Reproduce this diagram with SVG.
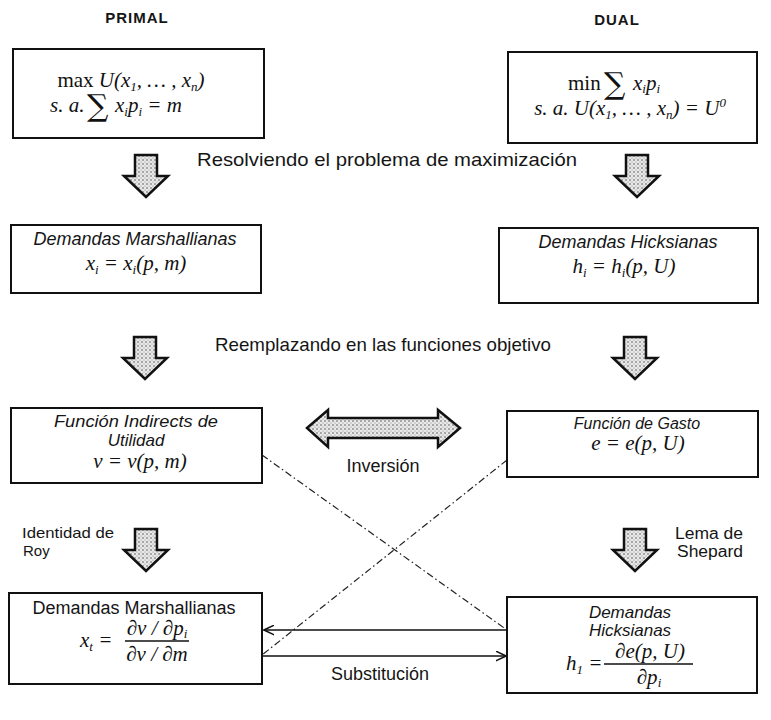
<svg xmlns="http://www.w3.org/2000/svg" xmlns:xlink="http://www.w3.org/1999/xlink" width="771" height="720" viewBox="0 0 771 720">
<style>
.box{fill:#fff;stroke:#111;stroke-width:2}
.lbl{font-family:"Liberation Sans",Arial,sans-serif;font-size:18px;fill:#151515}
.it{font-style:italic}
.hd{font-family:"Liberation Sans",Arial,sans-serif;font-size:15px;font-weight:bold;fill:#151515;letter-spacing:1px}
.math{font-family:"Liberation Serif","Times New Roman",serif;font-size:21px;font-style:italic;fill:#111}
.sub{font-size:13px}
.up{font-style:normal}
.sig{font-family:"DejaVu Serif","Liberation Serif",serif;font-size:30px;font-style:normal}
.blk{fill:url(#dots);stroke:#111;stroke-width:2.5;stroke-linejoin:miter}
.thin{fill:none;stroke:#111;stroke-width:1.3}
.dash{fill:none;stroke:#222;stroke-width:1.2;stroke-dasharray:7 3 1.5 3}
</style>
<defs>
<pattern id="dots" width="4" height="4" patternUnits="userSpaceOnUse">
<rect width="4" height="4" fill="#e8e8e8"/>
<circle cx="1" cy="1" r="0.7" fill="#333"/>
<circle cx="3" cy="3" r="0.5" fill="#777"/>
</pattern>
<path id="down" d="M-11,0 H11 V21 H22 L0,42 L-22,21 H-11 Z"/>
<marker id="open" viewBox="0 0 10 10" refX="9.5" refY="5" markerWidth="11" markerHeight="11" markerUnits="userSpaceOnUse" orient="auto">
<path d="M0,0.5 L9.5,5 L0,9.5" fill="none" stroke="#111" stroke-width="1.4"/>
</marker>
</defs>
<rect width="771" height="720" fill="#fff"/>

<g id="headers">
<text class="hd" x="137" y="23" text-anchor="middle">PRIMAL</text>
<text class="hd" x="617" y="25" text-anchor="middle">DUAL</text>
</g>

<g id="connectors">
<use xlink:href="#down" href="#down" x="146" y="155" class="blk"/>
<use xlink:href="#down" href="#down" x="637" y="155" class="blk"/>
<use xlink:href="#down" href="#down" x="145" y="337" class="blk"/>
<use xlink:href="#down" href="#down" x="635" y="337" class="blk"/>
<use xlink:href="#down" href="#down" x="146" y="529" class="blk"/>
<use xlink:href="#down" href="#down" x="635" y="529" class="blk"/>
<path class="blk" d="M307,428 L328,410 V418 H438 V410 L460,428 L438,447 V438 H328 V447 Z"/>
<path class="dash" d="M262,455 L507,630"/>
<path class="dash" d="M507,460 L262,655"/>
<path class="thin" d="M507,630 H264" marker-end="url(#open)"/>
<path class="thin" d="M262,656 H506" marker-end="url(#open)"/>
<text class="lbl" x="197" y="166" textLength="380" lengthAdjust="spacingAndGlyphs" style="font-size:19px">Resolviendo el problema de maximización</text>
<text class="lbl" x="215" y="351" textLength="336" lengthAdjust="spacingAndGlyphs" style="font-size:19px">Reemplazando en las funciones objetivo</text>
<text class="lbl" x="383" y="472" text-anchor="middle">Inversión</text>
<text class="lbl" x="22" y="538" textLength="92" lengthAdjust="spacingAndGlyphs" style="font-size:15px">Identidad de</text>
<text class="lbl" x="23" y="556" style="font-size:15px">Roy</text>
<text class="lbl" x="675" y="539" textLength="68" lengthAdjust="spacingAndGlyphs" style="font-size:16px">Lema de</text>
<text class="lbl" x="677" y="557" textLength="66" lengthAdjust="spacingAndGlyphs" style="font-size:16px">Shepard</text>
<text class="lbl" x="380" y="680" text-anchor="middle">Substitución</text>
</g>

<g id="n-primal">
<rect class="box" x="13" y="49" width="251" height="89"/>
<text class="math" x="131" y="87" text-anchor="middle"><tspan class="up">max</tspan> U(x<tspan class="sub" dy="4">1</tspan><tspan dy="-4">, … , x</tspan><tspan class="sub" dy="4">n</tspan><tspan dy="-4">)</tspan></text>
<text class="math" y="112"><tspan x="50">s. a.</tspan><tspan x="87" class="sig" dy="4">∑</tspan><tspan x="115" dy="-4">x</tspan><tspan class="sub" dy="4">i</tspan><tspan dy="-4">p</tspan><tspan class="sub" dy="4">i</tspan><tspan dy="-4"> = m</tspan></text>
</g>

<g id="n-dual">
<rect class="box" x="508" y="52" width="249" height="91"/>
<text class="math" y="90"><tspan x="568" class="up">min</tspan><tspan x="604" class="sig" dy="4">∑</tspan><tspan x="633" dy="-4">x</tspan><tspan class="sub" dy="3">i</tspan><tspan dy="-3">p</tspan><tspan class="sub" dy="3">i</tspan></text>
<text class="math" x="630" y="115" text-anchor="middle">s. a. U(x<tspan class="sub" dy="4">1</tspan><tspan dy="-4">, … , x</tspan><tspan class="sub" dy="4">n</tspan><tspan dy="-4">)  =  U</tspan><tspan class="sub" dy="-8">0</tspan></text>
</g>

<g id="n-marshall">
<rect class="box" x="11" y="225" width="250" height="68"/>
<text class="lbl it" x="135" y="245" text-anchor="middle">Demandas Marshallianas</text>
<text class="math" x="136" y="270" text-anchor="middle">x<tspan class="sub" dy="4">i</tspan><tspan dy="-4"> = x</tspan><tspan class="sub" dy="4">i</tspan><tspan dy="-4">(p, m)</tspan></text>
</g>

<g id="n-hicks">
<rect class="box" x="499" y="228" width="259" height="75"/>
<text class="lbl it" x="628" y="248" text-anchor="middle">Demandas Hicksianas</text>
<text class="math" x="624" y="273" text-anchor="middle">h<tspan class="sub" dy="4">i</tspan><tspan dy="-4"> = h</tspan><tspan class="sub" dy="4">i</tspan><tspan dy="-4">(p, U)</tspan></text>
</g>

<g id="n-indirecta">
<rect class="box" x="11" y="408" width="251" height="75"/>
<text class="lbl it" x="136" y="427" text-anchor="middle" textLength="164" lengthAdjust="spacingAndGlyphs" style="font-size:17px">Función Indirects de</text>
<text class="lbl it" x="136" y="446" text-anchor="middle" style="font-size:17px">Utilidad</text>
<text class="math" x="140" y="468" text-anchor="middle">v = v(p, m)</text>
</g>

<g id="n-gasto">
<rect class="box" x="507" y="411" width="251" height="66"/>
<text class="lbl it" x="637" y="429" text-anchor="middle" style="font-size:16px">Función de Gasto</text>
<text class="math" x="638" y="450" text-anchor="middle">e = e(p, U)</text>
</g>

<g id="n-marshall2">
<rect class="box" x="9" y="593" width="253" height="91"/>
<text class="lbl" x="134" y="614" text-anchor="middle">Demandas Marshallianas</text>
<text class="math" x="80" y="647">x<tspan class="sub" dy="4">t</tspan><tspan dy="-4"> =</tspan></text>
<text class="math" x="157" y="635" text-anchor="middle">∂v / ∂p<tspan class="sub" dy="3">i</tspan></text>
<line x1="125" y1="641" x2="189" y2="641" stroke="#111" stroke-width="1.3"/>
<text class="math" x="157" y="661" text-anchor="middle">∂v / ∂m</text>
</g>

<g id="n-hicks2">
<rect class="box" x="507" y="597" width="250" height="96"/>
<text class="lbl it" x="630" y="618" text-anchor="middle" style="font-size:17px">Demandas</text>
<text class="lbl it" x="630" y="636" text-anchor="middle" style="font-size:17px">Hicksianas</text>
<text class="math" x="566" y="670">h<tspan class="sub" dy="4">1</tspan><tspan dy="-4"> =</tspan></text>
<text class="math" x="650" y="658" text-anchor="middle">∂e(p, U)</text>
<line x1="604" y1="664" x2="693" y2="664" stroke="#111" stroke-width="1.3"/>
<text class="math" x="649" y="684" text-anchor="middle">∂p<tspan class="sub" dy="3">i</tspan></text>
</g>
</svg>
